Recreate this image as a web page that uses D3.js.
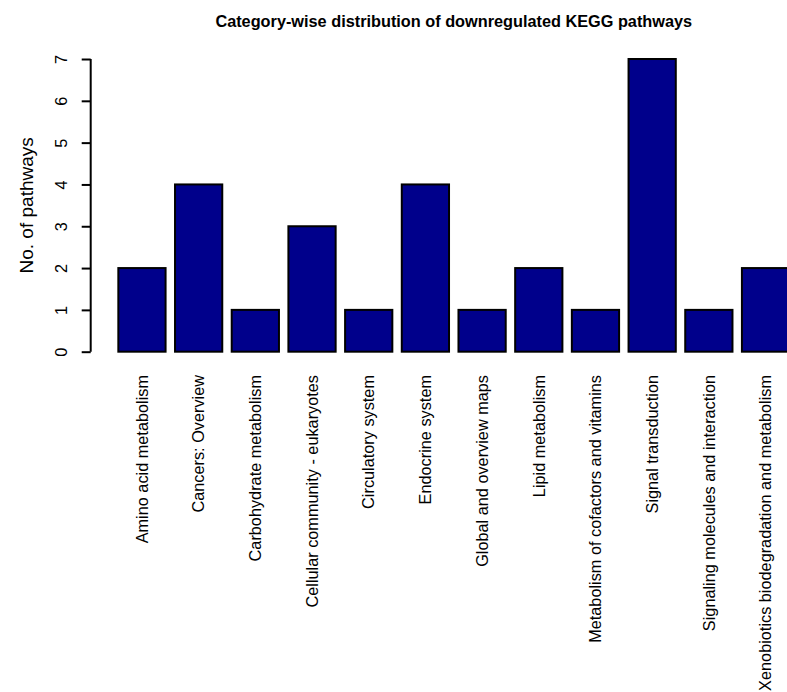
<!DOCTYPE html>
<html>
<head>
<meta charset="utf-8">
<script src="https://cdn.jsdelivr.net/npm/d3@7/dist/d3.min.js"></script>
<style>
  html, body { margin: 0; padding: 0; background: #ffffff; }
  svg { display: block; }
  text { font-family: "Liberation Sans", Arial, sans-serif; fill: #000; }
</style>
</head>
<body>
<svg id="chart" width="787" height="692"></svg>
<script>
// Pathway categories and counts
const categories = [
  "Amino acid metabolism",
  "Cancers: Overview",
  "Carbohydrate metabolism",
  "Cellular community - eukaryotes",
  "Circulatory system",
  "Endocrine system",
  "Global and overview maps",
  "Lipid metabolism",
  "Metabolism of cofactors and vitamins",
  "Signal transduction",
  "Signaling molecules and interaction",
  "Xenobiotics biodegradation and metabolism"
];
const counts = [2, 4, 1, 3, 1, 4, 1, 2, 1, 7, 1, 2];
const yTicks = [0, 1, 2, 3, 4, 5, 6, 7];

const chartTitle = "Category-wise distribution of downregulated KEGG pathways";
const yTitle = "No. of pathways";

const svg = d3.select("#chart");

// Plot region (bars use unit width with 0.2 spacing)
const plotLeft = 91.5, plotRight = 816;
const plotTop = 47.3, plotBottom = 363.4;

const nBars = categories.length;
const space = 0.2;
const xLo = space, xHi = nBars * (1 + space);
const xPad = (xHi - xLo) * 0.04;

const x = d3.scaleLinear()
  .domain([xLo - xPad, xHi + xPad])
  .range([plotLeft, plotRight]);

const yMax = d3.max(yTicks);
const y = d3.scaleLinear()
  .domain([-yMax * 0.04, yMax * 1.04])
  .range([plotBottom, plotTop]);

// Bars
const bars = categories.map((c, i) => ({
  name: c,
  value: counts[i],
  left: space + i * (1 + space),
  right: space + i * (1 + space) + 1
}));

svg.append("g")
  .selectAll("rect")
  .data(bars)
  .join("rect")
  .attr("x", d => x(d.left))
  .attr("y", d => y(d.value))
  .attr("width", d => x(d.right) - x(d.left))
  .attr("height", d => y(0) - y(d.value))
  .attr("fill", "#00008B")
  .attr("stroke", "#000")
  .attr("stroke-width", 2);

// Y axis
const yAxis = d3.axisLeft(y)
  .tickValues(yTicks)
  .tickSize(9)
  .tickSizeOuter(0)
  .tickFormat(d3.format("d"));

const yAxisG = svg.append("g")
  .attr("transform", `translate(${plotLeft - 0.8},0)`)
  .call(yAxis);

yAxisG.select(".domain").remove();
yAxisG.append("line")
  .attr("x1", 0).attr("x2", 0)
  .attr("y1", y(yTicks[0])).attr("y2", y(yTicks[yTicks.length - 1]))
  .attr("stroke", "#000").attr("stroke-width", 2);
yAxisG.selectAll(".tick line")
  .attr("stroke", "#000").attr("stroke-width", 2);
yAxisG.selectAll(".tick text")
  .attr("x", null).attr("dy", null)
  .attr("transform", "translate(-23.5,0) rotate(-90)")
  .attr("text-anchor", "middle")
  .attr("font-size", 16.3)
  .attr("font-family", "Liberation Sans, Arial, sans-serif")
  .attr("fill", "#000");

// Category labels below the bars
svg.append("g")
  .selectAll("text")
  .data(bars)
  .join("text")
  .attr("transform", d => `translate(${x((d.left + d.right) / 2)},375) rotate(-90)`)
  .attr("text-anchor", "end")
  .attr("dy", "0.35em")
  .attr("font-size", 16.3)
  .text(d => d.name);

// Y axis title
svg.append("text")
  .attr("transform", `translate(33,${(plotTop + plotBottom) / 2}) rotate(-90)`)
  .attr("text-anchor", "middle")
  .attr("font-size", 19)
  .text(yTitle);

// Chart title
svg.append("text")
  .attr("x", (plotLeft + plotRight) / 2)
  .attr("y", 27)
  .attr("text-anchor", "middle")
  .attr("font-size", 16.3)
  .attr("font-weight", "bold")
  .text(chartTitle);
</script>
</body>
</html>
